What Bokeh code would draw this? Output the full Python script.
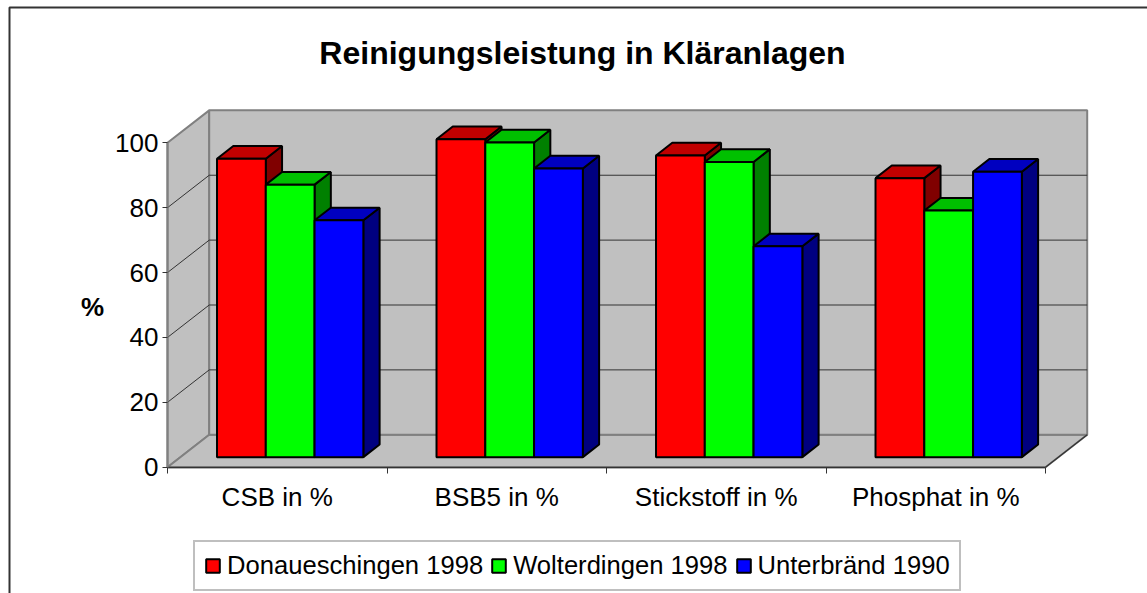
from bokeh.plotting import figure
from bokeh.embed import file_html
from bokeh.resources import INLINE
from bokeh.models import (Range1d, LinearAxis, FixedTicker, Legend, LegendItem,
                          BoxAnnotation, Label)

categories = ["CSB in %", "BSB5 in %", "Stickstoff in %", "Phosphat in %"]
series_names = ["Donaueschingen 1998", "Wolterdingen 1998", "Unterbränd 1990"]
donaueschingen = [92, 98, 93, 86]
wolterdingen = [84, 97, 91, 76]
unterbraend = [73, 89, 65, 88]
series_values = [donaueschingen, wolterdingen, unterbraend]
front_colors = ["#FF0000", "#00FF00", "#0000FF"]
top_colors = ["#C00000", "#00C000", "#0000C0"]
side_colors = ["#800000", "#008000", "#000080"]
y_ticks = [0, 20, 40, 60, 80, 100]

W, H = 1147, 593
X0_PX, Y0_PX = 167, 466.7     # where the axes cross on the page
UX, UY = 219.5, 3.244         # px per category, px per percent

# 3-D look: depth offsets in data units
DX, DY = 0.19, 10.0
D0, D1 = 0.31, 0.70
BW = 2 / 9
GAP = 1 / 6
N = len(categories)

p = figure(width=W, height=H, output_backend="svg", toolbar_location=None,
           x_range=Range1d(-X0_PX / UX, (W - X0_PX) / UX),
           y_range=Range1d(-(H - Y0_PX) / UY, Y0_PX / UY),
           x_axis_type=None, y_axis_type=None,
           min_border=0, margin=0)
p.grid.visible = False
p.outline_line_color = None
p.background_fill_color = "white"

WALL = "#C0C0C0"
EDGE = "#808080"
# side wall, floor, back wall
p.patch([0, DX, DX, 0], [0, DY, 100 + DY, 100], fill_color=WALL, line_color=EDGE, line_width=2)
p.patch([0, DX, N + DX, N], [0, DY, DY, 0], fill_color=WALL, line_color=EDGE, line_width=2)
p.patch([DX, N + DX, N + DX, DX], [DY, DY, 100 + DY, 100 + DY], fill_color=WALL, line_color=EDGE, line_width=2)
# grid lines
for t in y_ticks[1:-1]:
    p.line([0, DX, N + DX], [t, t + DY, t + DY], line_color="#333333", line_width=1)
p.line([N, N + DX], [0, DY], line_color="#333333", line_width=1.2)

renderers = []
for s, vals in enumerate(series_values):
    fr = None
    for c, v in enumerate(vals):
        x0 = c + GAP + s * BW + D0 * DX
        x1 = x0 + BW
        y0 = D0 * DY
        y1 = v + D0 * DY
        d = (D1 - D0)
        p.patch([x1, x1 + d * DX, x1 + d * DX, x1],
                [y0, y0 + d * DY, y1 + d * DY, y1],
                fill_color=side_colors[s], line_color="black", line_width=2)
        p.patch([x0, x1, x1 + d * DX, x0 + d * DX],
                [y1, y1, y1 + d * DY, y1 + d * DY],
                fill_color=top_colors[s], line_color="black", line_width=2)
        fr = p.quad(left=x0, right=x1, bottom=y0, top=y1,
                    fill_color=front_colors[s], line_color="black", line_width=2)
    renderers.append(fr)

yax = LinearAxis(ticker=FixedTicker(ticks=y_ticks), bounds=(0, 100), fixed_location=0)
yax.axis_line_color = EDGE
yax.axis_line_width = 2
yax.major_tick_in = 0
yax.major_tick_out = 5
yax.major_tick_line_color = "#333333"
yax.minor_tick_line_color = None
yax.major_label_text_font = "Liberation Sans"
yax.major_label_text_font_size = "26px"
yax.major_label_text_color = "black"
yax.major_label_standoff = 4
p.add_layout(yax, "left")

xax = LinearAxis(ticker=FixedTicker(ticks=[i + 0.5 for i in range(N)],
                                    minor_ticks=list(range(N + 1))),
                 bounds=(0, N), fixed_location=0)
xax.major_label_overrides = {i + 0.5: categories[i] for i in range(N)}
xax.axis_line_color = "#333333"
xax.axis_line_width = 1.5
xax.major_tick_line_color = None
xax.major_tick_in = 0
xax.major_tick_out = 0
xax.minor_tick_line_color = "#333333"
xax.minor_tick_in = 0
xax.minor_tick_out = 6
xax.major_label_text_font = "Liberation Sans"
xax.major_label_text_font_size = "26px"
xax.major_label_text_color = "black"
xax.major_label_standoff = 9
p.add_layout(xax, "below")

p.add_layout(Label(x=582, y=52, x_units="canvas", y_units="canvas",
                   text="Reinigungsleistung in Kläranlagen", text_align="center",
                   text_baseline="middle", text_font="Liberation Sans",
                   text_font_size="32px", text_font_style="bold", text_color="black"))
p.add_layout(Label(x=92, y=306, x_units="canvas", y_units="canvas", text="%",
                   text_align="center", text_baseline="middle",
                   text_font="Liberation Sans", text_font_size="26px",
                   text_font_style="bold", text_color="black"))

p.add_layout(BoxAnnotation(left=9, right=1300, top=7, bottom=800,
                           left_units="canvas", right_units="canvas",
                           top_units="canvas", bottom_units="canvas",
                           fill_alpha=0, line_color="#333333", line_alpha=1,
                           line_width=2, editable=False))

legend = Legend(items=[LegendItem(label=n, renderers=[r]) for n, r in zip(series_names, renderers)],
                orientation="horizontal", location=(193, 2),
                label_text_font="Liberation Sans", label_text_font_size="25.6px",
                label_text_color="black", border_line_color=EDGE, border_line_width=2,
                glyph_width=17, glyph_height=17, spacing=7, padding=9,
                label_standoff=6, margin=0, background_fill_alpha=1)
p.add_layout(legend, "center")

open("out.html", "w").write(file_html(p, INLINE))
